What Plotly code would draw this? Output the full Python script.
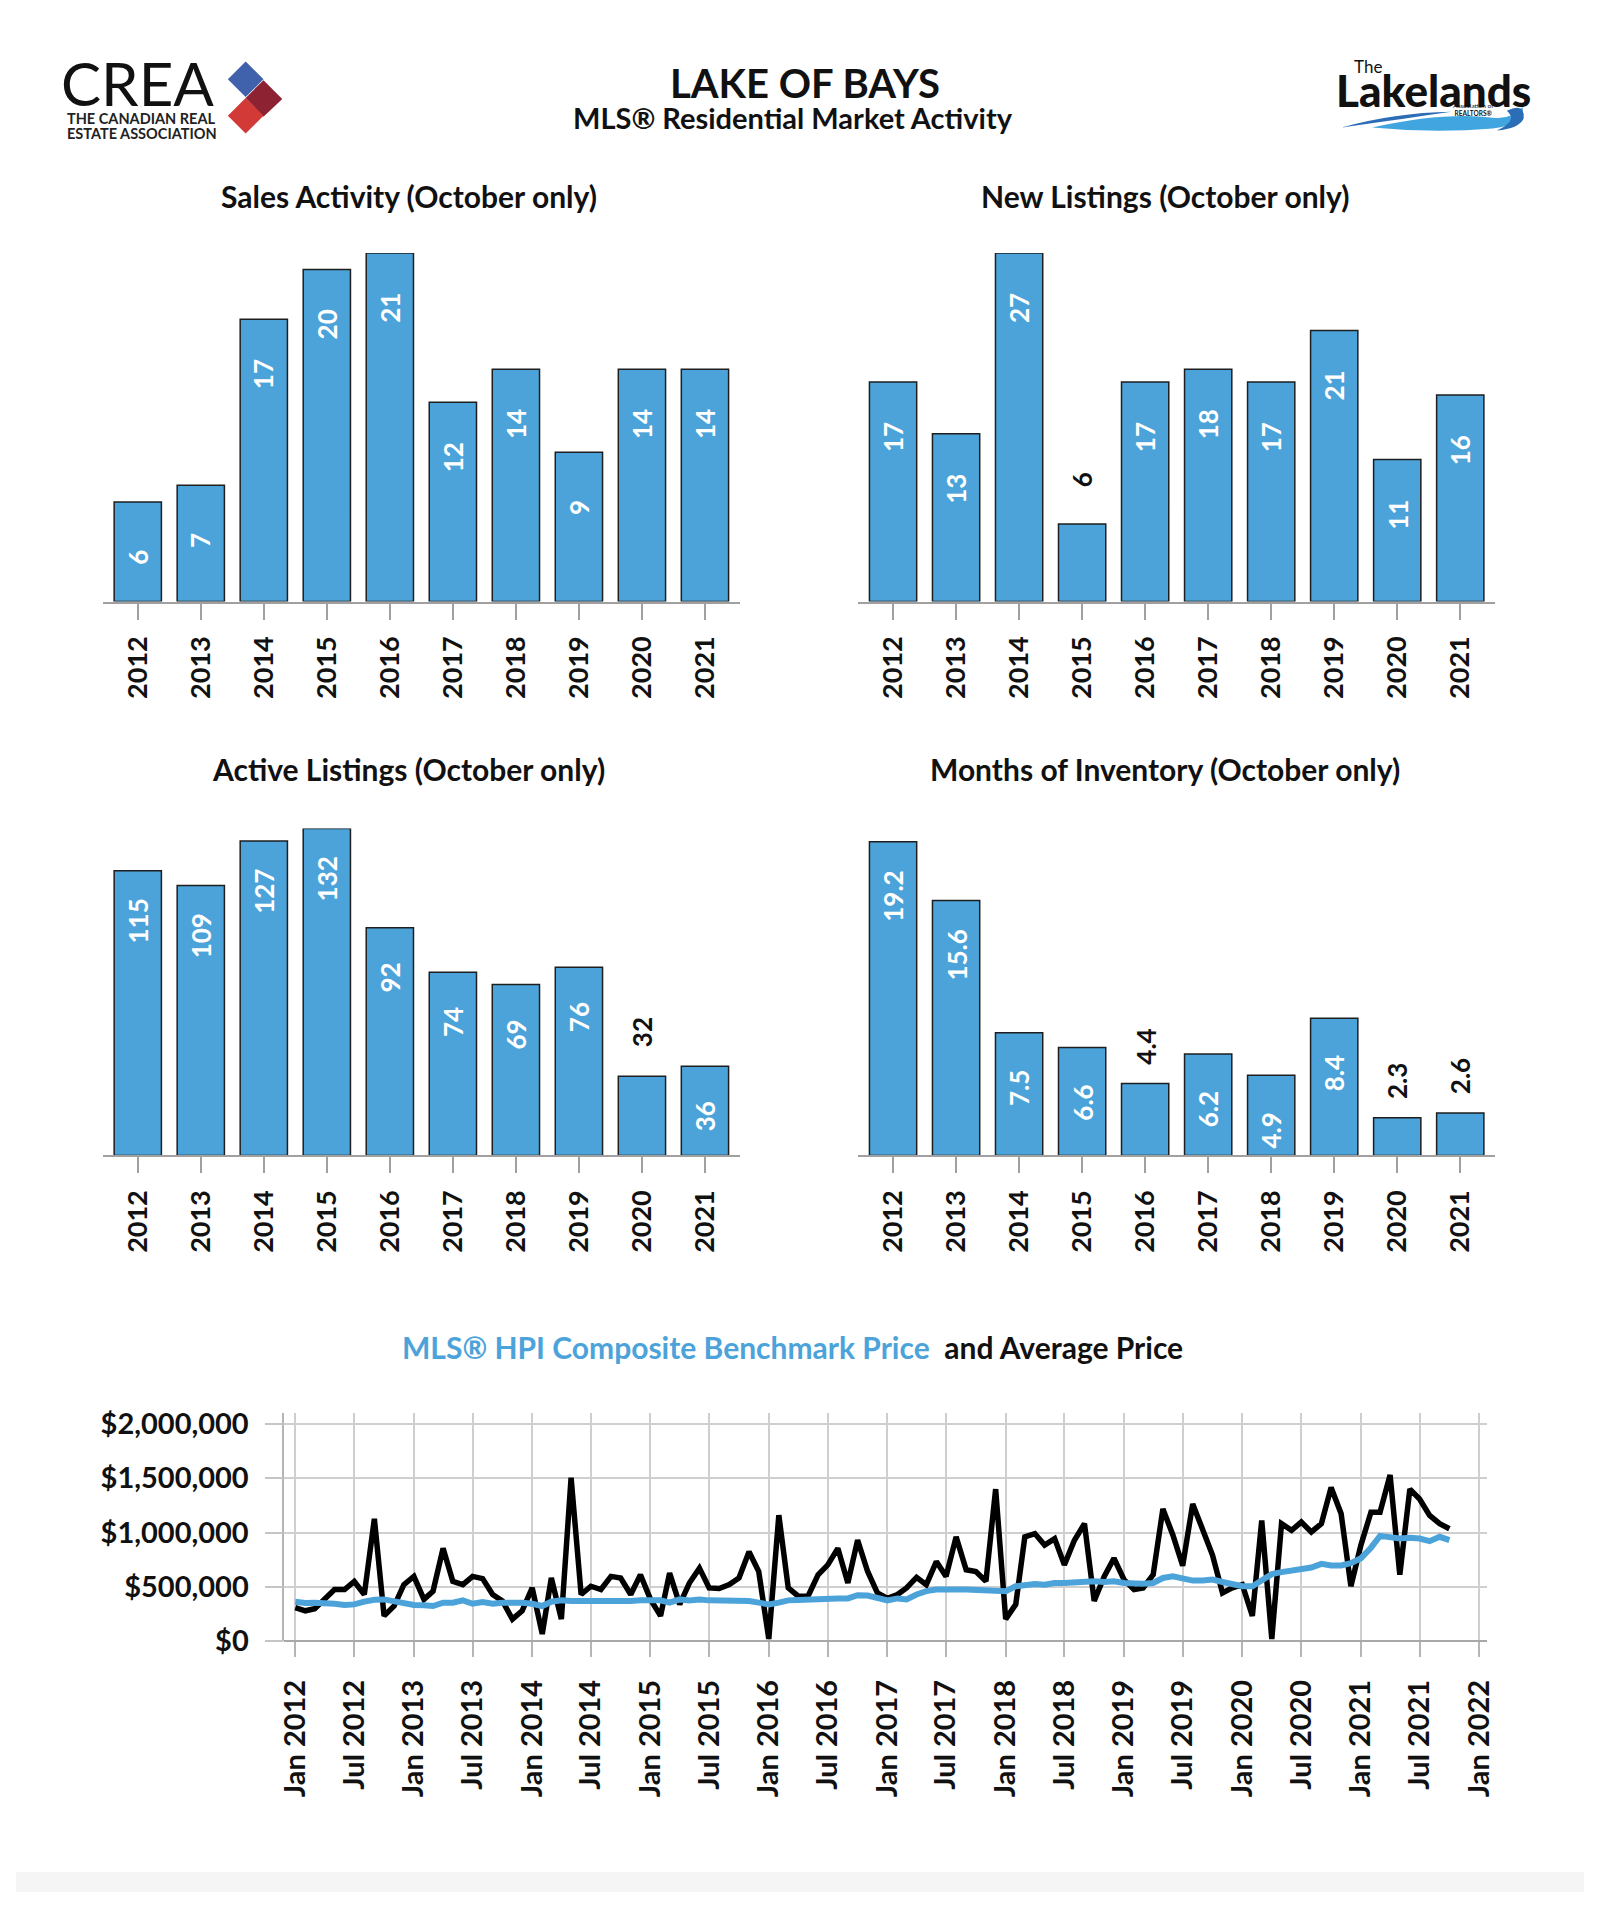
import plotly.graph_objects as go
import pandas as pd

# The page body keeps the browser's default 8px margin, so the figure is made
# 16px smaller and every page coordinate below is shifted by that margin.
PAGE_W, PAGE_H = 1600, 1916
OX, OY = 8, 8
W, H = PAGE_W - 2 * OX, PAGE_H - 2 * OY
BLUE = '#4ca3da'
FONT = 'Lato'

# ---------------- data ----------------
years = ['2012', '2013', '2014', '2015', '2016', '2017', '2018', '2019', '2020', '2021']
sales = [6, 7, 17, 20, 21, 12, 14, 9, 14, 14]
new_listings = [17, 13, 27, 6, 17, 18, 17, 21, 11, 16]
active_listings = [115, 109, 127, 132, 92, 74, 69, 76, 32, 36]
months_inventory = [19.2, 15.6, 7.5, 6.6, 4.4, 6.2, 4.9, 8.4, 2.3, 2.6]

# Monthly prices Jan 2012 .. Oct 2021, in thousands of dollars
avg_price_k = [
    309, 280, 300, 385, 475, 475, 550, 430, 1127, 233, 324, 521,
    597, 385, 460, 855, 551, 521, 597, 576, 430, 370, 203, 279,
    491, 67, 582, 203, 1506, 430, 506, 476, 597, 582, 430, 612,
    385, 233, 627, 339, 536, 673, 491, 485, 521, 582, 824, 642,
    21, 1160, 491, 415, 415, 612, 703, 855, 536, 930, 642, 445,
    395, 430, 491, 588, 521, 733, 597, 961, 658, 642, 552, 1400,
    203, 339, 961, 991, 885, 945, 703, 930, 1082, 370, 597, 764,
    567, 476, 491, 612, 1218, 976, 695, 1264, 1036, 794, 445, 491,
    521, 233, 1112, 21, 1082, 1021, 1097, 1006, 1082, 1415, 1173, 506,
    885, 1188, 1188, 1530, 612, 1400, 1309, 1158, 1082, 1036,
]
hpi_k = [
    364, 352, 355, 355, 345, 333, 339, 364, 382, 385, 364, 355,
    333, 330, 324, 355, 355, 376, 345, 361, 345, 355, 361, 355,
    345, 324, 364, 376, 370, 370, 364, 364, 361, 364, 370, 376,
    370, 376, 355, 385, 376, 385, 376, 376, 379, 376, 370, 355,
    339, 355, 376, 379, 385, 391, 385, 394, 394, 424, 421, 400,
    376, 394, 385, 430, 461, 476, 482, 476, 476, 470, 467, 467,
    461, 506, 521, 527, 521, 536, 536, 542, 542, 552, 545, 552,
    536, 530, 530, 536, 582, 597, 576, 558, 558, 567, 545, 527,
    506, 506, 567, 618, 636, 648, 667, 679, 712, 697, 697, 718,
    764, 861, 970, 955, 945, 952, 945, 921, 961, 930,
]
months = pd.date_range('2012-01-01', periods=len(avg_price_k), freq='MS')
price_ticks = [0, 500000, 1000000, 1500000, 2000000]
price_tick_text = ['$0', '$500,000', '$1,000,000', '$1,500,000', '$2,000,000']
date_ticks = pd.date_range('2012-01-01', '2022-01-01', freq='6MS')
date_tick_text = [d.strftime('%b %Y') for d in date_ticks]


def px(x):
    return (x - OX) / W


def py(y):
    return 1 - (y - OY) / H


fig = go.Figure()

bar_charts = [
    dict(vals=sales, ax='x', ay='y', ymax=21, fmt='{:d}', title='Sales Activity (October only)',
         xd=(96, 739), yd=(601, 248), tx=405, ty=190, inset=55),
    dict(vals=new_listings, ax='x2', ay='y2', ymax=27, fmt='{:d}', title='New Listings (October only)',
         xd=(859, 1502), yd=(601, 248), tx=1169, ty=190, inset=55),
    dict(vals=active_listings, ax='x3', ay='y3', ymax=132, fmt='{:d}', title='Active Listings (October only)',
         xd=(96, 739), yd=(1162, 831), tx=405, ty=771, inset=50),
    dict(vals=months_inventory, ax='x4', ay='y4', ymax=20, fmt='{:.1f}', title='Months of Inventory (October only)',
         xd=(859, 1502), yd=(1162, 831), tx=1169, ty=771, inset=55),
]

annotations = []
layout_axes = {}
for c in bar_charts:
    fig.add_trace(go.Bar(
        x=years, y=c['vals'], xaxis=c['ax'], yaxis=c['ay'], width=0.75,
        marker=dict(color=BLUE, line=dict(color='#1e1e1e', width=1.5)),
        hoverinfo='skip', showlegend=False,
    ))
    xname = 'xaxis' + c['ax'][1:]
    yname = 'yaxis' + c['ay'][1:]
    layout_axes[xname] = dict(
        domain=[px(c['xd'][0]), px(c['xd'][1])], anchor=c['ay'], type='category',
        range=[-0.55, 9.55], showline=True, linecolor='#a0a0a0', linewidth=2,
        ticks='outside', ticklen=16, tickwidth=1.5, tickcolor='#a0a0a0',
        tickangle=-90, ticklabelstandoff=6, showgrid=False, zeroline=False,
        tickfont=dict(family=FONT, size=27, color='#111111', weight='bold'),
    )
    layout_axes[yname] = dict(
        domain=[py(c['yd'][0]), py(c['yd'][1])], anchor=c['ax'], range=[0, c['ymax']],
        visible=True, showticklabels=False, ticks='', showline=False,
        showgrid=False, zeroline=False,
    )
    for i, v in enumerate(c['vals']):
        label = c['fmt'].format(v)
        inside = v / c['ymax'] >= 0.244
        if inside:
            shift = -c['inset']
        else:
            shift = 44 if len(label) <= 2 else 37
        annotations.append(dict(
            x=i, y=v, xref=c['ax'], yref=c['ay'], text='<b>' + label + '</b>',
            textangle=-90, showarrow=False, yanchor='middle', xanchor='center',
            yshift=shift,
            font=dict(family=FONT, size=26, color='white' if inside else '#111111'),
        ))
    annotations.append(dict(
        x=px(c['tx']), y=py(c['ty']), xref='paper', yref='paper', showarrow=False,
        text='<b>' + c['title'] + '</b>', xanchor='center', yanchor='middle',
        font=dict(family=FONT, size=30, color='#111111'),
    ))

# ---------------- price line chart ----------------
fig.add_trace(go.Scatter(
    x=months, y=[v * 1000 for v in avg_price_k], mode='lines', xaxis='x5', yaxis='y5',
    line=dict(color='#000000', width=5.5), showlegend=False, hoverinfo='skip',
))
fig.add_trace(go.Scatter(
    x=months, y=[v * 1000 for v in hpi_k], mode='lines', xaxis='x5', yaxis='y5',
    line=dict(color=BLUE, width=6), showlegend=False, hoverinfo='skip',
))
layout_axes['xaxis5'] = dict(
    domain=[px(279), px(1494)], anchor='y5', type='date',
    range=['2011-11-28', '2022-01-25'], tickvals=list(date_ticks), ticktext=date_tick_text,
    showgrid=True, gridcolor='#cfcfcf', gridwidth=1.5, zeroline=False, showline=False,
    ticks='outside', ticklen=15, tickwidth=1.5, tickcolor='#b5b5b5',
    tickangle=-90, ticklabelstandoff=11,
    tickfont=dict(family=FONT, size=29, color='#111111', weight='bold'),
)
layout_axes['yaxis5'] = dict(
    domain=[py(1654), py(1423)], anchor='x5', range=[0, 2100000],
    tickvals=price_ticks, ticktext=price_tick_text,
    showgrid=True, gridcolor='#cfcfcf', gridwidth=2,
    zeroline=True, zerolinecolor='#a8a8a8', zerolinewidth=2,
    showline=True, linecolor='#b5b5b5', linewidth=1.5,
    ticks='outside', ticklen=18, tickwidth=2, tickcolor='#c5c5c5', ticklabelstandoff=10,
    tickfont=dict(family=FONT, size=29, color='#111111', weight='bold'),
)

annotations.append(dict(
    x=px(792), y=py(1356), xref='paper', yref='paper', showarrow=False, xanchor='center', yanchor='middle',
    text="<b><span style='color:#4ca3da'>MLS® HPI Composite Benchmark Price</span>&nbsp;&nbsp;and Average Price</b>",
    font=dict(family=FONT, size=30, color='#111111'),
))

# ---------------- header ----------------
annotations += [
    dict(x=px(805), y=py(76), xref='paper', yref='paper', showarrow=False, xanchor='center', yanchor='middle',
         text='<b>LAKE OF BAYS</b>', font=dict(family=FONT, size=40, color='#111111')),
    dict(x=px(793), y=py(111), xref='paper', yref='paper', showarrow=False, xanchor='center', yanchor='middle',
         text='<b>MLS® Residential Market Activity</b>', font=dict(family=FONT, size=29, color='#111111')),
    # CREA logo text
    dict(x=px(51), y=py(76), xref='paper', yref='paper', showarrow=False, xanchor='left', yanchor='middle',
         text='CREA', font=dict(family=FONT, size=60, color='#111111')),
    dict(x=px(58), y=py(112), xref='paper', yref='paper', showarrow=False, xanchor='left', yanchor='middle',
         text='<b>THE CANADIAN REAL</b>', font=dict(family=FONT, size=14.5, color='#222222')),
    dict(x=px(58), y=py(127), xref='paper', yref='paper', showarrow=False, xanchor='left', yanchor='middle',
         text='<b>ESTATE ASSOCIATION</b>', font=dict(family=FONT, size=14.5, color='#222222')),
    # Lakelands logo text
    dict(x=px(1374), y=py(59), xref='paper', yref='paper', showarrow=False, xanchor='center', yanchor='middle',
         text='The', font=dict(family=FONT, size=17, color='#111111')),
    dict(x=px(1440), y=py(83), xref='paper', yref='paper', showarrow=False, xanchor='center', yanchor='middle',
         text='Lakelands', font=dict(family=FONT, size=44, color='#111111', weight=900)),
    dict(x=px(1480), y=py(103), xref='paper', yref='paper', showarrow=False, xanchor='center', yanchor='middle',
         text='Association of<br><b>REALTORS®</b>', font=dict(family=FONT, size=6.5, color='#111111')),
]


def path(points, close=True):
    parts = []
    for p in points:
        if isinstance(p, str):
            parts.append(p)
        else:
            parts.append('{:.5f},{:.5f}'.format(px(p[0]), py(p[1])))
    s = ' '.join(parts)
    return s + (' Z' if close else '')


shapes = [
    # CREA diamonds
    dict(type='path', xref='paper', yref='paper', line=dict(width=0), fillcolor='#4062ad',
         path=path(['M', (222, 72), 'L', (240, 54), 'L', (258, 72), 'L', (240, 90)])),
    dict(type='path', xref='paper', yref='paper', line=dict(width=0), fillcolor='#8c2232',
         path=path(['M', (240, 91), 'L', (258, 73), 'L', (277, 92), 'L', (258, 110)])),
    dict(type='path', xref='paper', yref='paper', line=dict(width=0), fillcolor='#d23a37',
         path=path(['M', (222, 109), 'L', (240, 91), 'L', (258, 109), 'L', (240, 127)])),
    # Lakelands waves
    dict(type='path', xref='paper', yref='paper', line=dict(width=0), fillcolor='#2b6db6',
         path=path(['M', (1347, 121), 'Q', (1400, 106), (1458, 105), 'Q', (1410, 112), (1347, 121)])),
    dict(type='path', xref='paper', yref='paper', line=dict(width=0), fillcolor='#41a6df',
         path=path(['M', (1378, 121), 'Q', (1450, 105), (1500, 111), 'Q', (1520, 113), (1530, 100),
                    'Q', (1533, 118), (1500, 122), 'Q', (1440, 127), (1378, 121)])),
    dict(type='path', xref='paper', yref='paper', line=dict(width=0), fillcolor='#2b6db6',
         path=path(['M', (1514, 104), 'Q', (1533, 95), (1531, 112), 'Q', (1526, 122), (1504, 124),
                    'Q', (1526, 114), (1514, 104)])),
    # faint bottom band
    dict(type='rect', xref='paper', yref='paper', x0=0, x1=1, y0=0, y1=py(1888),
         line=dict(width=0), fillcolor='#f5f5f5', layer='below'),
]

fig.update_layout(
    width=W, height=H, margin=dict(l=0, r=0, t=0, b=0),
    paper_bgcolor='white', plot_bgcolor='white',
    font=dict(family=FONT, color='#111111'),
    showlegend=False, bargap=0.25,
    annotations=annotations, shapes=shapes,
    **layout_axes,
)

fig.write_html('out.html', config={'displayModeBar': False})
